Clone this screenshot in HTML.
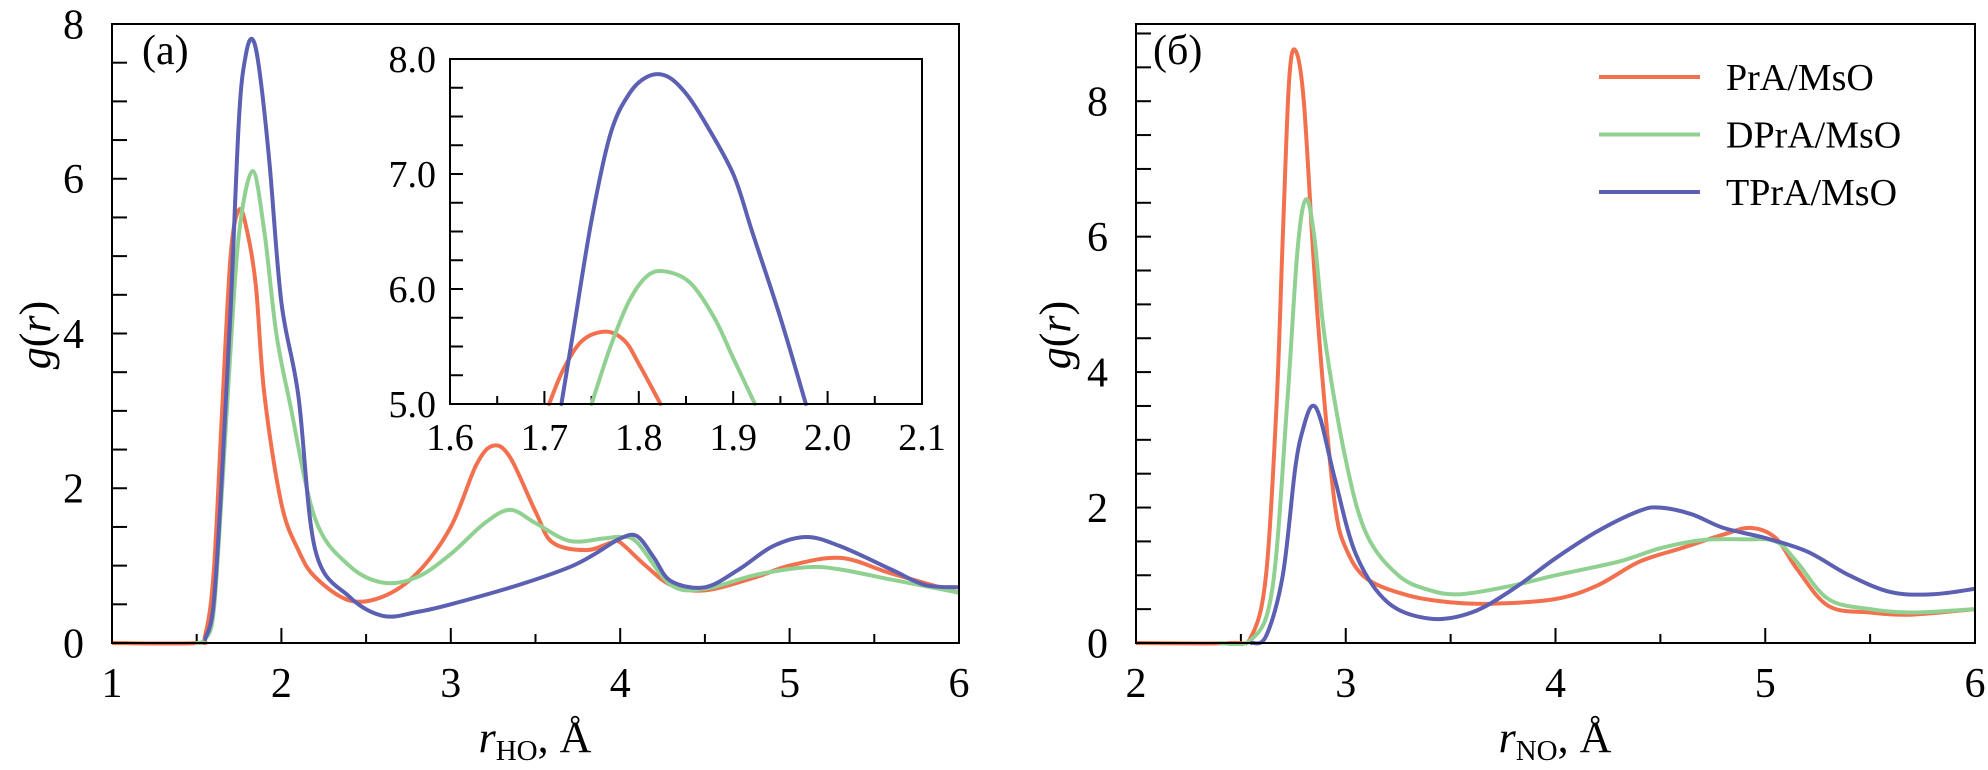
<!DOCTYPE html>
<html><head><meta charset="utf-8"><style>
body{margin:0;background:#fff}
svg{display:block}
text{font-family:"Liberation Serif","DejaVu Serif",serif}
</style></head><body>
<svg id="fig" width="1988" height="770" viewBox="0 0 1988 770" xmlns="http://www.w3.org/2000/svg" font-family="Liberation Serif, serif"></svg>
<script>
// ---- Panel (a) data: g(r) vs r_HO ----
const aRedX = [1,1.5,1.55,1.6,1.65,1.7,1.75,1.8,1.85,1.9,2.0,2.1,2.2,2.4,2.6,2.8,3.0,3.15,3.25,3.35,3.5,3.6,3.8,3.95,4.0,4.15,4.3,4.5,4.8,5.0,5.3,5.6,6.0];
const aRedY = [0,0,0.1,0.9,3.0,5.0,5.6,5.3,4.6,3.2,1.8,1.2,0.85,0.55,0.6,0.9,1.5,2.3,2.55,2.4,1.7,1.3,1.2,1.3,1.3,1.0,0.75,0.68,0.85,1.0,1.1,0.9,0.65];
const aGreenX = [1.5,1.55,1.6,1.65,1.7,1.75,1.83,1.9,1.97,2.05,2.2,2.4,2.6,2.8,3.0,3.2,3.35,3.5,3.7,3.9,4.0,4.1,4.3,4.5,4.8,5.1,5.3,5.6,6.0];
const aGreenY = [0,0.05,0.4,2.0,3.8,5.3,6.1,5.3,4.0,3.1,1.6,1.0,0.78,0.85,1.15,1.55,1.72,1.55,1.32,1.35,1.37,1.3,0.75,0.7,0.88,0.98,0.95,0.82,0.65];
const aBlueX = [1.55,1.6,1.65,1.7,1.75,1.79,1.83,1.87,1.93,2.0,2.1,2.2,2.4,2.6,2.8,3.0,3.4,3.7,3.85,4.0,4.1,4.2,4.3,4.5,4.7,4.9,5.1,5.3,5.6,5.8,6.0];
const aBlueY = [0.05,0.5,2.2,4.3,6.8,7.6,7.8,7.4,6.2,4.4,3.2,1.2,0.6,0.35,0.4,0.5,0.75,0.98,1.15,1.35,1.38,1.1,0.8,0.72,0.95,1.25,1.37,1.25,0.95,0.75,0.72];
// ---- Inset data ----
const iRedX = [1.705,1.72,1.74,1.765,1.785,1.8,1.823];
const iRedY = [5.0,5.3,5.55,5.63,5.55,5.35,5.0];
const iGreenX = [1.75,1.77,1.79,1.81,1.83,1.855,1.88,1.9,1.923];
const iGreenY = [5.0,5.5,5.9,6.12,6.15,6.05,5.75,5.4,5.0];
const iBlueX = [1.718,1.73,1.75,1.77,1.79,1.81,1.83,1.85,1.87,1.9,1.92,1.95,1.977];
const iBlueY = [5.0,5.6,6.6,7.35,7.7,7.85,7.85,7.7,7.45,7.0,6.5,5.75,5.0];
// ---- Panel (б) data: g(r) vs r_NO ----
const bRedX = [2,2.45,2.55,2.62,2.67,2.7,2.73,2.76,2.8,2.85,2.9,2.95,3.0,3.1,3.3,3.5,3.7,4.0,4.2,4.4,4.6,4.8,4.93,5.05,5.15,5.3,5.5,5.7,6.0];
const bRedY = [0,0,0.1,1.0,3.5,6.0,8.3,8.75,8.0,5.5,3.5,2.0,1.4,0.95,0.7,0.6,0.58,0.65,0.85,1.2,1.4,1.6,1.7,1.55,1.1,0.55,0.45,0.42,0.5];
const bGreenX = [2.4,2.55,2.65,2.72,2.77,2.81,2.85,2.9,3.0,3.1,3.25,3.4,3.55,3.8,4.0,4.3,4.5,4.7,4.9,5.05,5.15,5.3,5.5,5.7,6.0];
const bGreenY = [0,0.05,0.8,3.5,5.8,6.55,6.0,4.5,2.7,1.6,1.0,0.78,0.72,0.85,1.0,1.2,1.4,1.52,1.53,1.5,1.2,0.65,0.5,0.45,0.5];
const bBlueX = [2.55,2.62,2.7,2.76,2.8,2.84,2.88,2.95,3.05,3.2,3.4,3.6,3.8,4.0,4.2,4.4,4.5,4.65,4.8,5.0,5.2,5.4,5.6,5.8,6.0];
const bBlueY = [0,0.1,1.0,2.6,3.2,3.5,3.3,2.4,1.3,0.6,0.36,0.45,0.8,1.25,1.65,1.95,2.0,1.9,1.7,1.55,1.35,1.0,0.75,0.72,0.8];
const aXTicks = [1,2,3,4,5,6];
const aYTicks = [0,2,4,6,8];
const iXTicks = [1.6,1.7,1.8,1.9,2.0,2.1];
const iYTicks = [5.0,6.0,7.0,8.0];
const bXTicks = [2,3,4,5,6];
const bYTicks = [0,2,4,6,8];
const seriesNames = ["PrA/MsO","DPrA/MsO","TPrA/MsO"];

const NS="http://www.w3.org/2000/svg";
const svg=document.getElementById('fig');
const RED="#f3704e",GREEN="#90d191",BLUE="#5c60b2";
const FF="Liberation Serif, serif";
function mk(tag,attrs,parent){const e=document.createElementNS(NS,tag);for(const k in attrs)e.setAttribute(k,attrs[k]);(parent||svg).appendChild(e);return e;}
function smoothPath(pts){let d="M"+pts[0][0].toFixed(1)+","+pts[0][1].toFixed(1);
 for(let i=0;i<pts.length-1;i++){const p0=pts[i-1]||pts[i],p1=pts[i],p2=pts[i+1],p3=pts[i+2]||p2;
  const c1=[p1[0]+(p2[0]-p0[0])/6,p1[1]+(p2[1]-p0[1])/6],c2=[p2[0]-(p3[0]-p1[0])/6,p2[1]-(p3[1]-p1[1])/6];
  d+=" C"+c1[0].toFixed(1)+","+c1[1].toFixed(1)+" "+c2[0].toFixed(1)+","+c2[1].toFixed(1)+" "+p2[0].toFixed(1)+","+p2[1].toFixed(1);}
 return d;}
let clipId=0;
function panel(o){
 const g=mk('g',{});
 
 
 const sx=v=>o.x0+(v-o.xmin)/(o.xmax-o.xmin)*(o.x1-o.x0);
 const sy=v=>o.y1-(v-o.ymin)/(o.ymax-o.ymin)*(o.y1-o.y0);
 if(o.bg){mk('rect',{x:o.x0,y:o.y0,width:o.x1-o.x0,height:o.y1-o.y0,fill:'#fff'},g);}
 const cid='c'+(clipId++);
 const cp=mk('clipPath',{id:cid},g);mk('rect',{x:o.x0,y:o.y0-2,width:o.x1-o.x0,height:o.y1-o.y0+5},cp);
 for(let v=o.xmin;v<=o.xmax+1e-9;v+=o.xminor){const isMaj=o.xTicks.some(t=>Math.abs(t-v)<1e-6);
  const t=mk('line',{x1:sx(v),x2:sx(v),y1:o.y1,y2:o.y1-(isMaj?o.maj:o.min),stroke:'#000','stroke-width':2},g);
  
  }
 for(let v=o.ymin;v<=o.ymax+1e-9;v+=o.yminor){
  const t=mk('line',{x1:o.x0,x2:o.x0+o.maj,y1:sy(v),y2:sy(v),stroke:'#000','stroke-width':2},g);
  
  }
 o.xTicks.forEach(v=>{const t=mk('text',{x:sx(v),y:o.y1+o.xlabOff,'font-size':o.fs,'text-anchor':'middle','font-family':FF},g);t.textContent=o.fmt?v.toFixed(1):v;
  
  });
 o.yTicks.forEach(v=>{const t=mk('text',{x:o.x0-o.ylabOff,y:sy(v)+o.fs*0.34,'font-size':o.fs,'text-anchor':'end','font-family':FF},g);t.textContent=o.fmt?v.toFixed(1):v;
  
  });
 const cg=mk('g',{'clip-path':'url(#'+cid+')'},g);
 o.series.forEach((s,i)=>{const pts=s.x.map((xv,j)=>[sx(xv),sy(s.y[j])]);
  const p=mk('path',{d:smoothPath(pts),fill:'none',stroke:s.c,'stroke-width':4,'stroke-linejoin':'round','stroke-linecap':'round'},cg);
  
  });
 const fr=mk('rect',{x:o.x0,y:o.y0,width:o.x1-o.x0,height:o.y1-o.y0,fill:'none',stroke:'#000','stroke-width':2},g);
 
 
 return g;}

panel({name:'panel-a',x0:112,x1:959,y0:24,y1:643,xmin:1,xmax:6,ymin:0,ymax:8,xminor:0.5,yminor:0.5,maj:15,min:9,
 xTicks:aXTicks,yTicks:aYTicks,fs:42,xlabOff:54,ylabOff:28,
 series:[{x:aRedX,y:aRedY,c:RED},{x:aGreenX,y:aGreenY,c:GREEN},{x:aBlueX,y:aBlueY,c:BLUE}]});
panel({name:'inset-panel',bg:true,x0:450,x1:922,y0:59,y1:404,xmin:1.6,xmax:2.1,ymin:5,ymax:8,xminor:0.05,yminor:0.25,maj:13,min:8,
 xTicks:iXTicks,yTicks:iYTicks,fs:38,xlabOff:46,ylabOff:14,fmt:true,
 series:[{x:iRedX,y:iRedY,c:RED},{x:iGreenX,y:iGreenY,c:GREEN},{x:iBlueX,y:iBlueY,c:BLUE}]});
panel({name:'panel-b',x0:1136,x1:1975,y0:24,y1:643,xmin:2,xmax:6,ymin:0,ymax:9.14,xminor:0.5,yminor:0.5,maj:15,min:9,
 xTicks:bXTicks,yTicks:bYTicks,fs:42,xlabOff:54,ylabOff:28,
 series:[{x:bRedX,y:bRedY,c:RED},{x:bGreenX,y:bGreenY,c:GREEN},{x:bBlueX,y:bBlueY,c:BLUE}]});

[RED,GREEN,BLUE].forEach((c,i)=>{const y=77+i*57.5;
 const l=mk('line',{x1:1599,x2:1700,y1:y,y2:y,stroke:c,'stroke-width':4});
 
 
 const t=mk('text',{x:1726,y:y+13,'font-size':38,'font-family':FF});t.textContent=seriesNames[i];
 
 });
</script>
<svg style="position:absolute;left:0;top:0" width="1988" height="770" font-family="Liberation Serif, serif">
<text x="142" y="64" font-size="42" font-family="Liberation Serif, serif">(a)</text>
<text x="1153" y="64" font-size="42" font-family="Liberation Serif, serif">(б)</text>
<text transform="translate(50,335) rotate(-90)" text-anchor="middle" font-size="44" font-family="Liberation Serif, serif"><tspan font-style="italic">g</tspan>(<tspan font-style="italic">r</tspan>)</text>
<text transform="translate(1070,335) rotate(-90)" text-anchor="middle" font-size="44" font-family="Liberation Serif, serif"><tspan font-style="italic">g</tspan>(<tspan font-style="italic">r</tspan>)</text>
<text x="535" y="752" text-anchor="middle" font-size="44" font-family="Liberation Serif, serif"><tspan font-style="italic">r</tspan><tspan font-size="29" dy="8">HO</tspan><tspan dy="-8">, Å</tspan></text>
<text x="1555" y="752" text-anchor="middle" font-size="44" font-family="Liberation Serif, serif"><tspan font-style="italic">r</tspan><tspan font-size="29" dy="8">NO</tspan><tspan dy="-8">, Å</tspan></text>
</svg>
</body></html>
